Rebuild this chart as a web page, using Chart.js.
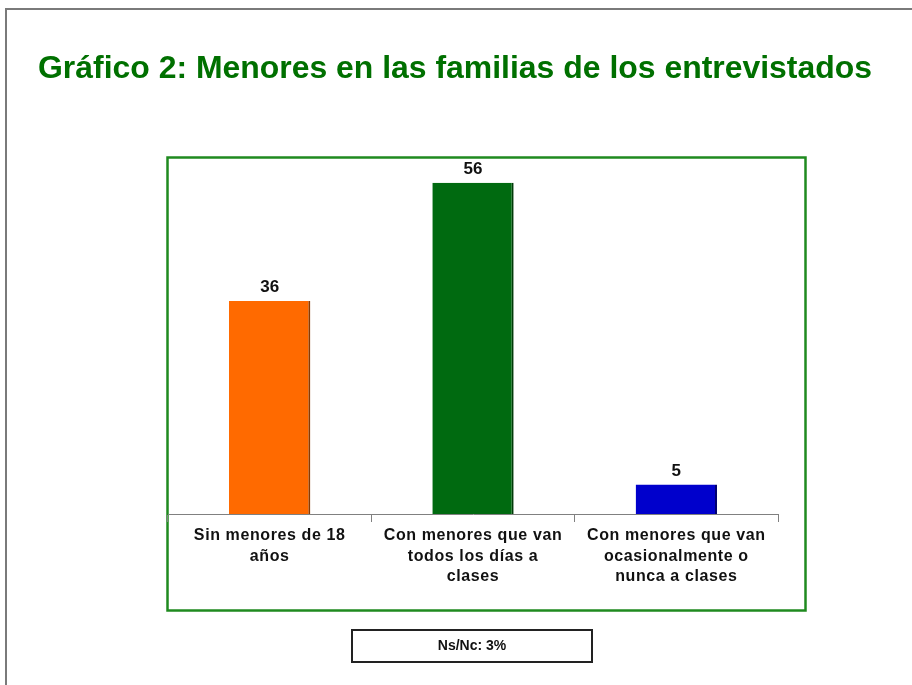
<!DOCTYPE html>
<html>
<head>
<meta charset="utf-8">
<script src="https://cdn.jsdelivr.net/npm/chart.js@4.4.0/dist/chart.umd.min.js"></script>
<style>
  html, body { margin: 0; padding: 0; background: #fff; }
  #wrap { width: 912px; height: 685px; }
</style>
</head>
<body>
<div id="wrap"><canvas id="myChart" width="912" height="685"></canvas></div>
<script>
//data

const titleText = 'Gráfico 2: Menores en las familias de los entrevistados';
const categories = [
  ['Sin menores de 18', 'años'],
  ['Con menores que van', 'todos los días a', 'clases'],
  ['Con menores que van', 'ocasionalmente o', 'nunca a clases']
];
const values = [36, 56, 5];
const barColors = ['#FF6A00', '#006A10', '#0000CC'];
const barEdges = ['#8A3A00', '#003A08', '#000070'];
const nsNc = 3;

//frame, title, labels and note box

const decorations = {
  id: 'decorations',
  beforeDraw(chart) {
    const ctx = chart.ctx;
    ctx.save();
    ctx.fillStyle = '#fff';
    ctx.fillRect(0, 0, chart.width, chart.height);
    // outer frame
    ctx.strokeStyle = '#7a7a7a';
    ctx.lineWidth = 2;
    ctx.strokeRect(6, 9, 1000, 1000);
    // title
    ctx.fillStyle = '#007000';
    ctx.font = 'bold 32px "Liberation Sans", Arial, sans-serif';
    ctx.textBaseline = 'alphabetic';
    ctx.textAlign = 'left';
    ctx.fillText(titleText, 38, 78, 834);
    // green plot box
    ctx.strokeStyle = '#1f8a1f';
    ctx.lineWidth = 2.5;
    ctx.strokeRect(167.5, 157.5, 638, 453);
    // note box
    ctx.strokeStyle = '#222';
    ctx.lineWidth = 2;
    ctx.strokeRect(352, 630, 240, 32);
    ctx.fillStyle = '#111';
    ctx.font = 'bold 14px "Liberation Sans", Arial, sans-serif';
    ctx.textAlign = 'center';
    ctx.textBaseline = 'middle';
    ctx.fillText('Ns/Nc: ' + nsNc + '%', 472, 646);
    ctx.restore();
    // slightly wider spacing for the category labels (reset after drawing)
    ctx.letterSpacing = '0.6px';
  },
  afterDatasetsDraw(chart) {
    const ctx = chart.ctx;
    const meta = chart.getDatasetMeta(0);
    ctx.save();
    ctx.letterSpacing = '0px';
    ctx.fillStyle = '#111';
    ctx.font = 'bold 17px "Liberation Sans", Arial, sans-serif';
    ctx.textAlign = 'center';
    ctx.textBaseline = 'bottom';
    meta.data.forEach((bar, i) => {
      ctx.fillText(values[i], bar.x, bar.y - 5);
    });
    ctx.restore();
  },
  afterDraw(chart) {
    chart.ctx.letterSpacing = '0px';
  }
};

//config

const config = {
  type: 'bar',
  data: {
    labels: categories,
    datasets: [{
      data: values,
      backgroundColor: barColors,
      borderColor: barEdges,
      borderWidth: {top: 0, left: 0, right: 2, bottom: 0},
      categoryPercentage: 1,
      barPercentage: 0.4
    }]
  },
  options: {
    responsive: false,
    animation: false,
    layout: {
      padding: {left: 168, right: 134, top: 159, bottom: 71}
    },
    plugins: {
      legend: {display: false},
      title: {display: false},
      tooltip: {enabled: false}
    },
    scales: {
      y: {
        display: false,
        min: 0,
        max: 60
      },
      x: {
        afterFit(scale) { scale.height = 100; },
        border: {display: true, color: '#808080', width: 1},
        grid: {
          display: true,
          drawOnChartArea: false,
          drawTicks: true,
          tickLength: 8,
          color: '#808080',
          offset: true
        },
        ticks: {
          color: '#111',
          maxRotation: 0,
          autoSkip: false,
          padding: 3,
          font: {family: '"Liberation Sans", Arial, sans-serif', size: 16, weight: 'bold', lineHeight: 1.3}
        }
      }
    }
  },
  plugins: [decorations]
};

//render

const myChart = new Chart(document.getElementById('myChart'), config);
</script>
</body>
</html>
